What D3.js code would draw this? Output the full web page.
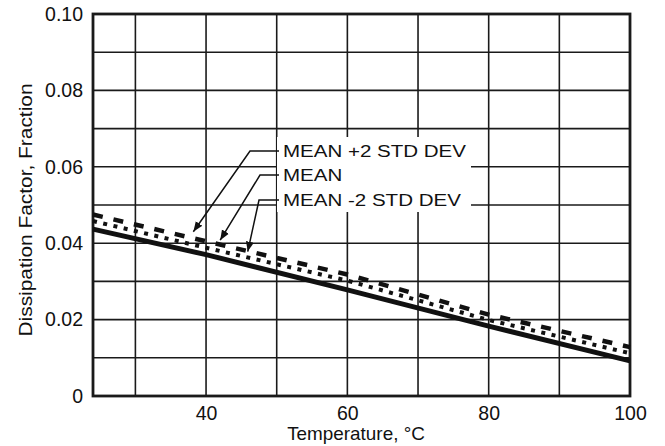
<!DOCTYPE html>
<html>
<head>
<meta charset="utf-8">
<script src="https://cdn.jsdelivr.net/npm/d3@7"></script>
<style>
  body { margin: 0; background: #fff; }
  text { font-family: "Liberation Sans", Arial, Helvetica, sans-serif; fill: #111; }
</style>
</head>
<body>
<script>
// data
var temps = [24, 40, 60, 80, 100];
var meanPlus2 = [0.0475, 0.0405, 0.0318, 0.0213, 0.0128];
var meanVals = [0.0458, 0.0388, 0.0302, 0.0199, 0.0112];
var meanMinus2 = [0.0437, 0.0370, 0.0278, 0.0183, 0.0092];
var xTicks = [40, 60, 80, 100];
var yTicks = [0, 0.02, 0.04, 0.06, 0.08, 0.10];
var labels = ["MEAN +2 STD DEV", "MEAN", "MEAN -2 STD DEV"];

var W = 665, H = 446;
var plotL = 93, plotR = 630, plotT = 14, plotB = 396;

var svg = d3.select("body").append("svg")
    .attr("width", W)
    .attr("height", H);

var x = d3.scaleLinear().domain([24, 100]).range([plotL, plotR]);
var y = d3.scaleLinear().domain([0, 0.1]).range([plotB, plotT]);

// grid
svg.selectAll("line.vgrid")
    .data(d3.range(30, 100, 10))
    .enter().append("line")
    .attr("class", "vgrid")
    .attr("x1", function(d){return x(d);})
    .attr("x2", function(d){return x(d);})
    .attr("y1", plotT).attr("y2", plotB)
    .attr("stroke", "#1a1a1a").attr("stroke-width", 1.6);

svg.selectAll("line.hgrid")
    .data(d3.range(1, 10).map(function(i){return i / 100;}))
    .enter().append("line")
    .attr("class", "hgrid")
    .attr("y1", function(d){return y(d);})
    .attr("y2", function(d){return y(d);})
    .attr("x1", plotL).attr("x2", plotR)
    .attr("stroke", "#1a1a1a").attr("stroke-width", 1.6);

// white box behind the labels
svg.append("rect")
    .attr("x", 277).attr("y", 137)
    .attr("width", 194).attr("height", 75)
    .attr("fill", "#fff");

// frame
svg.append("rect")
    .attr("x", plotL).attr("y", plotT)
    .attr("width", plotR - plotL).attr("height", plotB - plotT)
    .attr("fill", "none")
    .attr("stroke", "#1a1a1a").attr("stroke-width", 2.8);

// axes
var xAxis = svg.append("g")
    .attr("transform", "translate(0," + plotB + ")")
    .call(d3.axisBottom(x).tickValues(xTicks).tickSize(0).tickPadding(7)
        .tickFormat(d3.format("d")));
xAxis.select(".domain").remove();
xAxis.selectAll("text").attr("font-size", 19.5).attr("dy", "0.85em");

var yAxis = svg.append("g")
    .attr("transform", "translate(" + plotL + ",0)")
    .call(d3.axisLeft(y).tickValues(yTicks).tickSize(0).tickPadding(10)
        .tickFormat(function(d){return d === 0 ? "0" : d3.format(".2f")(d);}));
yAxis.select(".domain").remove();
yAxis.selectAll("text").attr("font-size", 19.5);

svg.append("text")
    .attr("transform", "translate(356,434) scale(1.05,1)")
    .attr("text-anchor", "middle")
    .attr("dominant-baseline", "central")
    .attr("font-size", 18)
    .text("Temperature, °C");

svg.append("text")
    .attr("transform", "translate(25,210) rotate(-90) scale(1.13,1)")
    .attr("text-anchor", "middle")
    .attr("dominant-baseline", "central")
    .attr("font-size", 18.5)
    .text("Dissipation Factor, Fraction");

// curves
var line = d3.line()
    .x(function(d){return x(d[0]);})
    .y(function(d){return y(d[1]);});

function pts(vals){ return temps.map(function(t, i){return [t, vals[i]];}); }

svg.append("path")
    .datum(pts(meanMinus2))
    .attr("d", line)
    .attr("fill", "none")
    .attr("stroke", "#111")
    .attr("stroke-width", 5);

svg.append("path")
    .datum(pts(meanVals))
    .attr("d", line)
    .attr("fill", "none")
    .attr("stroke", "#111")
    .attr("stroke-width", 4)
    .attr("stroke-dasharray", "4,6.5");

svg.append("path")
    .datum(pts(meanPlus2))
    .attr("d", line)
    .attr("fill", "none")
    .attr("stroke", "#111")
    .attr("stroke-width", 4.5)
    .attr("stroke-dasharray", "10,11");

// labels with leader arrows
var labelY = [151, 175, 200];
var elbowX = [250, 260, 259];
var tips = [[38.2, 0.0430], [42.0, 0.0408], [45.9, 0.0378]];

svg.append("defs").append("marker")
    .attr("id", "arr")
    .attr("viewBox", "0 0 10 10")
    .attr("refX", 10).attr("refY", 5)
    .attr("markerWidth", 10).attr("markerHeight", 10)
    .attr("markerUnits", "userSpaceOnUse")
    .attr("orient", "auto")
    .append("path")
    .attr("d", "M0,1 L10,5 L0,9 Z")
    .attr("fill", "#111");

labels.forEach(function(lab, i){
    svg.append("path")
        .attr("d", "M279," + labelY[i] + " L" + elbowX[i] + "," + labelY[i] +
            " L" + x(tips[i][0]) + "," + y(tips[i][1]))
        .attr("fill", "none")
        .attr("stroke", "#111")
        .attr("stroke-width", 1.5)
        .attr("marker-end", "url(#arr)");
    svg.append("text")
        .attr("transform", "translate(283," + labelY[i] + ") scale(1.18,1)")
        .attr("dominant-baseline", "central")
        .attr("font-size", 17.4)
        .text(lab);
});
</script>
</body>
</html>
